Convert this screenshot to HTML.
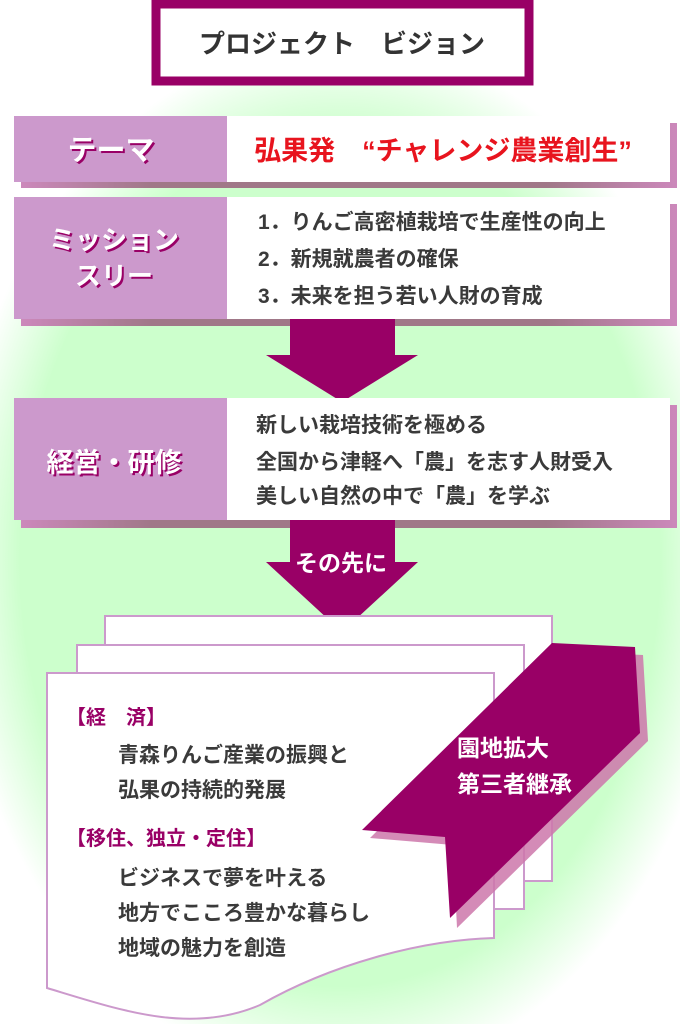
<!DOCTYPE html>
<html><head><meta charset="utf-8"><style>
html,body{margin:0;padding:0;background:#fff;overflow:hidden;width:680px;height:1024px;}
svg{display:block;}
text{font-family:"Liberation Sans","Noto Sans CJK JP",sans-serif;}
</style></head><body>
<svg width="680" height="1024" viewBox="0 0 680 1024" xmlns="http://www.w3.org/2000/svg">
<defs>
<radialGradient id="g" cx="340" cy="560" r="1" gradientUnits="userSpaceOnUse" gradientTransform="translate(340 560) scale(390 520) translate(-340 -560)">
<stop offset="0" stop-color="#ccffcc"/><stop offset="0.82" stop-color="#ccffcc"/><stop offset="1" stop-color="#ffffff"/>
</radialGradient>
<linearGradient id="sh" x1="0" x2="1"><stop offset="0" stop-color="#cc88bb"/><stop offset="0.2" stop-color="#a07888"/><stop offset="0.8" stop-color="#a07888"/><stop offset="1" stop-color="#cc88bb"/></linearGradient>
</defs>
<rect width="680" height="1024" fill="#fff"/>
<ellipse cx="340" cy="560" rx="390" ry="520" fill="url(#g)"/>
<!-- title -->
<rect x="156" y="4" width="373" height="77" fill="#fff" stroke="#990066" stroke-width="9"/>
<text x="342" y="53" font-size="26" font-weight="bold" fill="#333" text-anchor="middle">プロジェクト　ビジョン</text>
<!-- theme row -->
<rect x="21" y="123" width="656" height="65" fill="url(#sh)"/>
<rect x="14" y="116" width="656" height="66" fill="#fff"/>
<rect x="14" y="116" width="213" height="66" fill="#cc99cc"/>
<text x="113" y="162" font-size="29" font-weight="bold" fill="#990066" text-anchor="middle">テーマ</text>
<text x="111" y="160" font-size="29" font-weight="bold" fill="#fff" text-anchor="middle">テーマ</text>
<text x="443" y="160" font-size="27" font-weight="bold" fill="#e8141e" text-anchor="middle">弘果発　“チャレンジ農業創生”</text>
<!-- mission row -->
<rect x="21" y="204" width="656" height="122" fill="url(#sh)"/>
<rect x="14" y="197" width="656" height="122" fill="#fff"/>
<rect x="14" y="197" width="213" height="122" fill="#cc99cc"/>
<g font-size="26" font-weight="bold" text-anchor="middle">
<text x="116" y="251" fill="#990066">ミッション</text><text x="114" y="249" fill="#fff">ミッション</text>
<text x="116" y="287" fill="#990066">スリー</text><text x="114" y="285" fill="#fff">スリー</text>
</g>
<g font-size="21" fill="#3a3a3a" font-weight="bold">
<text x="258" y="229">1．りんご高密植栽培で生産性の向上</text>
<text x="258" y="266">2．新規就農者の確保</text>
<text x="258" y="303">3．未来を担う若い人財の育成</text>
</g>
<!-- arrow 1 -->
<polygon points="290,319 395,319 395,355 418,355 342,402 266,355 290,355" fill="#990066"/>
<!-- keiei row -->
<rect x="21" y="405" width="656" height="123" fill="url(#sh)"/>
<rect x="14" y="398" width="656" height="122" fill="#fff"/>
<rect x="14" y="398" width="213" height="122" fill="#cc99cc"/>
<text x="116" y="474" font-size="27" font-weight="bold" fill="#990066" text-anchor="middle">経営・研修</text>
<text x="114" y="472" font-size="27" font-weight="bold" fill="#fff" text-anchor="middle">経営・研修</text>
<g font-size="21" fill="#3a3a3a" font-weight="bold">
<text x="256" y="432">新しい栽培技術を極める</text>
<text x="256" y="469">全国から津軽へ「農」を志す人財受入</text>
<text x="256" y="503">美しい自然の中で「農」を学ぶ</text>
</g>
<!-- arrow 2 -->
<polygon points="290,520 395,520 395,562 418,562 342,632 266,562 290,562" fill="#990066"/>
<text x="341" y="571" font-size="23" font-weight="bold" fill="#fff" text-anchor="middle">その先に</text>
<!-- pages -->
<rect x="105" y="616" width="447" height="265" fill="#fff" stroke="#cc99cc" stroke-width="2"/>
<rect x="77" y="645" width="447" height="264" fill="#fff" stroke="#cc99cc" stroke-width="2"/>
<path d="M47,673 L494,673 L494,938 C420,940 330,965 260,1005 C190,1035 120,1010 47,988 Z" fill="#fff" stroke="#cc99cc" stroke-width="2"/>
<!-- ribbon -->
<polygon points="559,651 643,655 648,741 457,928 453,845 370,838" fill="#cc77aa" opacity="0.85"/>
<polygon points="552,643 635,647 640,733 450,918 445,837 362,830" fill="#990066"/>
<g font-size="23" font-weight="bold" fill="#fff">
<text x="457" y="756">園地拡大</text>
<text x="457" y="792">第三者継承</text>
</g>
<g font-size="20" font-weight="bold" fill="#990066">
<text x="66" y="724">【経　済】</text>
<text x="66" y="845">【移住、独立・定住】</text>
</g>
<g font-size="21" fill="#3a3a3a" font-weight="bold">
<text x="118" y="762">青森りんご産業の振興と</text>
<text x="118" y="797">弘果の持続的発展</text>
<text x="118" y="885">ビジネスで夢を叶える</text>
<text x="118" y="920">地方でこころ豊かな暮らし</text>
<text x="118" y="955">地域の魅力を創造</text>
</g>
</svg>
</body></html>
